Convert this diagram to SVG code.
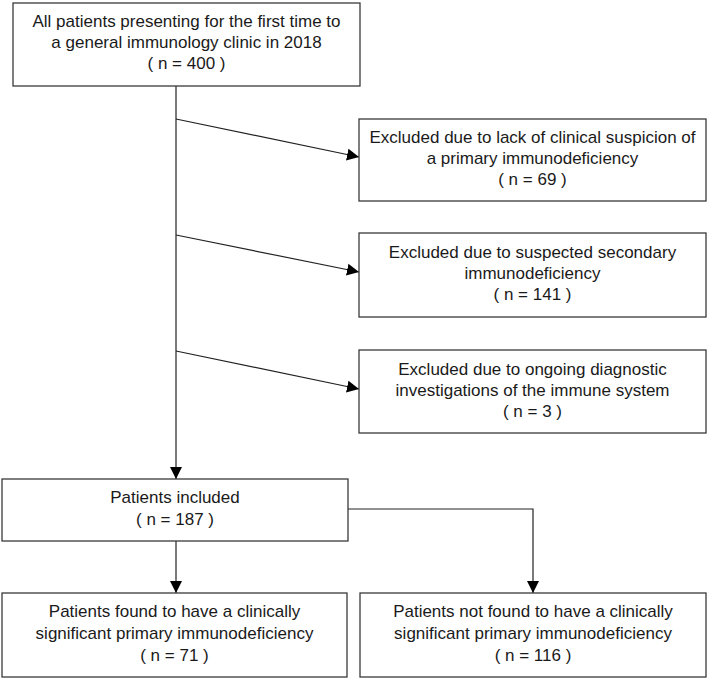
<svg xmlns="http://www.w3.org/2000/svg" width="709" height="678" viewBox="0 0 709 678">
<style>
.box{fill:#fff;stroke:#3a3a3a;stroke-width:1.3}
.t{font-family:"Liberation Sans",Arial,sans-serif;font-size:17px;fill:#1a1a1a;text-anchor:middle}
.c{fill:none;stroke:#222;stroke-width:1.2}
</style>
<defs>
<marker id="ah" markerUnits="userSpaceOnUse" markerWidth="14" markerHeight="14" refX="12" refY="6.5" orient="auto">
<path d="M0,0.5 L12,6.5 L0,12.5 z" fill="#000"/>
</marker>
</defs>
<rect width="709" height="678" fill="#fff"/>
<g id="connectors">
<path class="c" d="M176,86 V479" marker-end="url(#ah)"/>
<path class="c" d="M176,119 L359,157" marker-end="url(#ah)"/>
<path class="c" d="M176,235 L359,272" marker-end="url(#ah)"/>
<path class="c" d="M176,351 L359,389" marker-end="url(#ah)"/>
<path class="c" d="M176,541 V593" marker-end="url(#ah)"/>
<path class="c" d="M348,509 H533 V593" marker-end="url(#ah)"/>
</g>
<g id="n_all">
<rect class="box" x="13" y="3" width="347" height="83"/>
<text class="t" x="186.5" y="27">All patients presenting for the first time to</text>
<text class="t" x="186.5" y="48">a general immunology clinic in 2018</text>
<text class="t" x="186.5" y="69">( n = 400 )</text>
</g>
<g id="n_excl1">
<rect class="box" x="359" y="119" width="347" height="82"/>
<text class="t" x="532.5" y="143">Excluded due to lack of clinical suspicion of</text>
<text class="t" x="532.5" y="164">a primary immunodeficiency</text>
<text class="t" x="532.5" y="185">( n = 69 )</text>
</g>
<g id="n_excl2">
<rect class="box" x="359" y="233" width="347" height="84"/>
<text class="t" x="532.5" y="258">Excluded due to suspected secondary</text>
<text class="t" x="532.5" y="279">immunodeficiency</text>
<text class="t" x="532.5" y="300">( n = 141 )</text>
</g>
<g id="n_excl3">
<rect class="box" x="359" y="350" width="347" height="83"/>
<text class="t" x="532.5" y="375">Excluded due to ongoing diagnostic</text>
<text class="t" x="532.5" y="396">investigations of the immune system</text>
<text class="t" x="532.5" y="417">( n = 3 )</text>
</g>
<g id="n_included">
<rect class="box" x="2" y="479" width="346" height="62"/>
<text class="t" x="175" y="503">Patients included</text>
<text class="t" x="175" y="525">( n = 187 )</text>
</g>
<g id="n_found">
<rect class="box" x="2" y="593" width="345" height="84"/>
<text class="t" x="174.5" y="617">Patients found to have a clinically</text>
<text class="t" x="174.5" y="639">significant primary immunodeficiency</text>
<text class="t" x="174.5" y="661">( n = 71 )</text>
</g>
<g id="n_notfound">
<rect class="box" x="360" y="593" width="346" height="84"/>
<text class="t" x="533" y="617">Patients not found to have a clinically</text>
<text class="t" x="533" y="639">significant primary immunodeficiency</text>
<text class="t" x="533" y="661">( n = 116 )</text>
</g>
</svg>
